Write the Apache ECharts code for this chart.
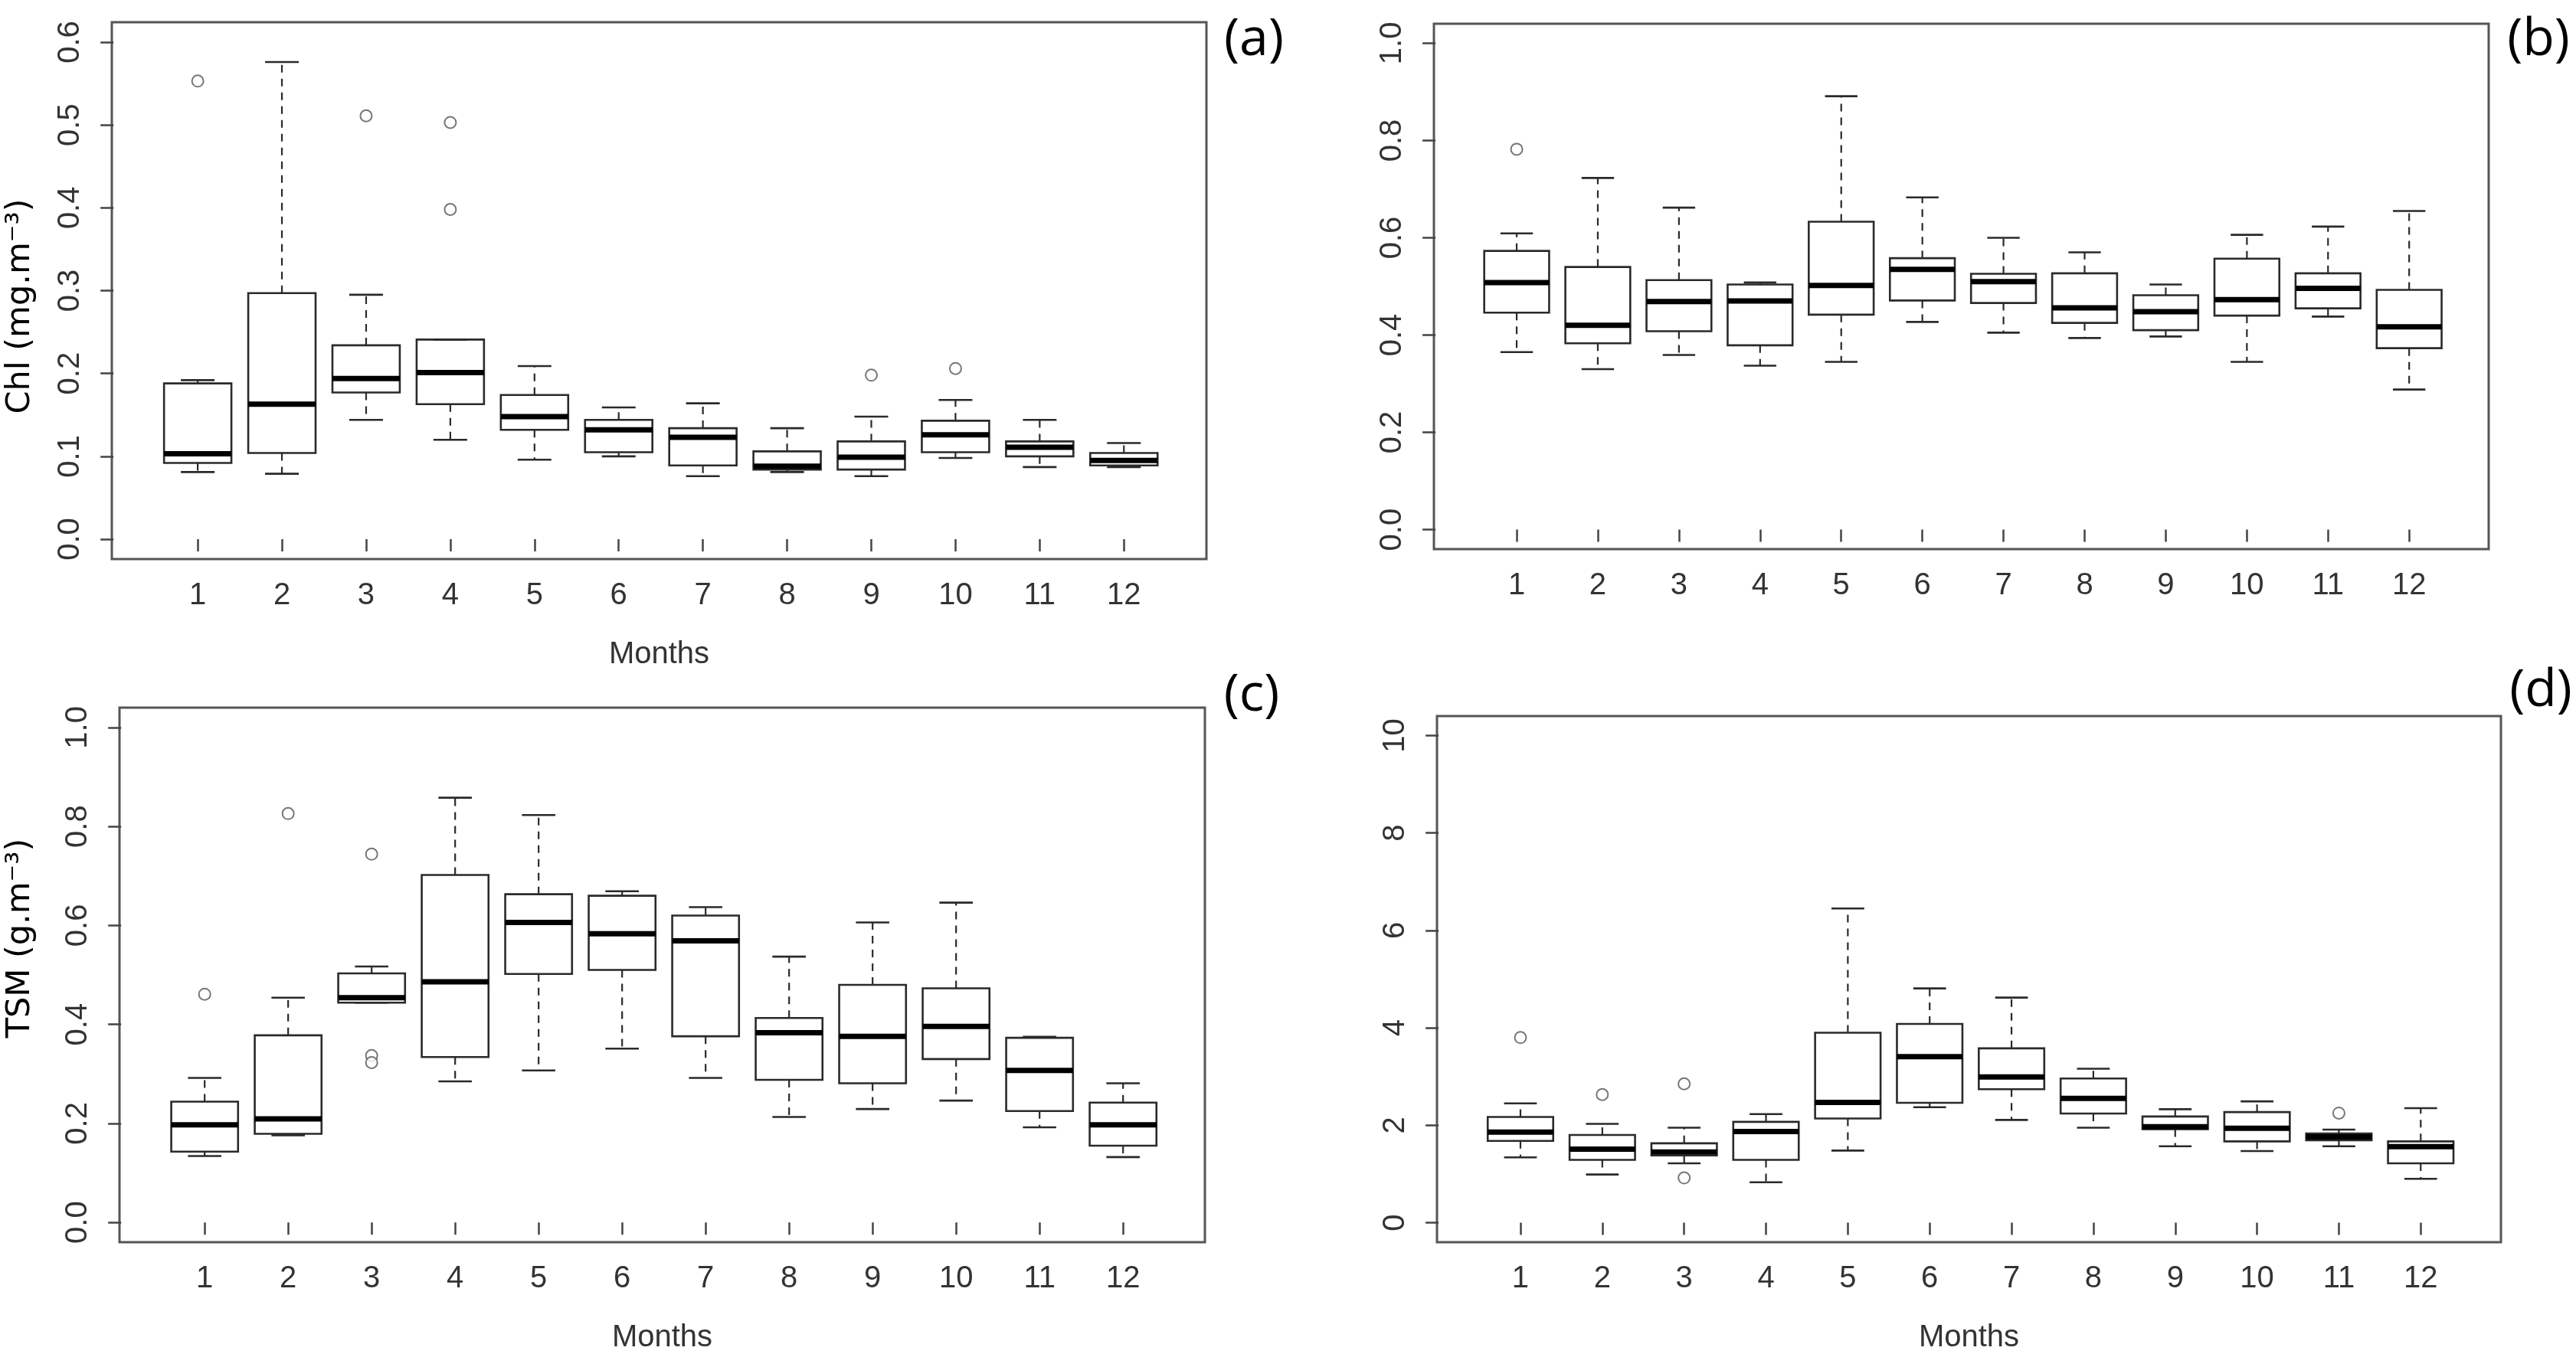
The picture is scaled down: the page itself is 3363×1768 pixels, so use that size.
<!DOCTYPE html>
<html><head><meta charset="utf-8">
<script src="https://cdn.jsdelivr.net/npm/echarts@6/dist/echarts.min.js"></script>
<style>html,body{margin:0;padding:0;background:#fff}#c{width:3363px;height:1768px}</style>
</head><body><div id="c"></div>
<script>
// ---- DATA ----
const months = [1,2,3,4,5,6,7,8,9,10,11,12];
// each row: [lower whisker, Q1, median, Q3, upper whisker]
const chlBoxes = [
  [0.081,0.092,0.103,0.188,0.192],[0.079,0.104,0.163,0.297,0.576],[0.144,0.177,0.194,0.234,0.295],
  [0.120,0.163,0.201,0.241,0.241],[0.096,0.132,0.148,0.174,0.209],[0.100,0.105,0.132,0.144,0.159],
  [0.076,0.089,0.123,0.134,0.164],[0.081,0.084,0.088,0.106,0.134],[0.076,0.084,0.099,0.118,0.148],
  [0.098,0.105,0.126,0.143,0.168],[0.087,0.100,0.111,0.118,0.144],[0.087,0.089,0.095,0.104,0.116]
];
const chlOutliers = [[1,0.553],[3,0.511],[4,0.503],[4,0.398],[9,0.198],[10,0.206]];
const panelBBoxes = [
  [0.365,0.446,0.508,0.573,0.609],[0.330,0.383,0.420,0.540,0.723],[0.359,0.408,0.469,0.513,0.662],
  [0.337,0.379,0.470,0.504,0.508],[0.345,0.442,0.502,0.633,0.891],[0.427,0.471,0.535,0.558,0.683],
  [0.405,0.466,0.510,0.526,0.600],[0.394,0.425,0.456,0.527,0.570],[0.397,0.410,0.448,0.482,0.504],
  [0.345,0.440,0.473,0.557,0.606],[0.438,0.455,0.496,0.527,0.623],[0.288,0.373,0.417,0.493,0.655]
];
const panelBOutliers = [[1,0.782]];
const tsmBoxes = [
  [0.134,0.143,0.197,0.244,0.292],[0.176,0.179,0.209,0.378,0.454],[0.444,0.444,0.454,0.503,0.517],
  [0.285,0.334,0.486,0.702,0.858],[0.307,0.502,0.606,0.663,0.823],[0.351,0.510,0.583,0.660,0.669],
  [0.292,0.376,0.569,0.620,0.637],[0.213,0.288,0.383,0.413,0.537],[0.229,0.281,0.376,0.480,0.606],
  [0.246,0.330,0.396,0.473,0.646],[0.192,0.225,0.307,0.373,0.375],[0.132,0.155,0.197,0.242,0.281]
];
const tsmOutliers = [[1,0.461],[2,0.826],[3,0.744],[3,0.337],[3,0.323]];
const panelDBoxes = [
  [1.34,1.68,1.86,2.17,2.45],[0.99,1.29,1.51,1.80,2.03],[1.22,1.38,1.45,1.63,1.95],
  [0.83,1.29,1.87,2.07,2.23],[1.48,2.14,2.47,3.90,6.45],[2.37,2.46,3.41,4.08,4.81],
  [2.11,2.74,2.99,3.58,4.62],[1.95,2.24,2.55,2.96,3.16],[1.57,1.92,1.97,2.18,2.33],
  [1.47,1.67,1.94,2.27,2.49],[1.57,1.69,1.76,1.83,1.91],[0.90,1.22,1.56,1.67,2.35]
];
const panelDOutliers = [[1,3.80],[2,2.63],[3,2.85],[3,0.92],[11,2.25]];
const chlTicks = [0,0.1,0.2,0.3,0.4,0.5,0.6];
const panelBTicks = [0,0.2,0.4,0.6,0.8,1.0];
const tsmTicks = [0,0.2,0.4,0.6,0.8,1.0];
const panelDTicks = [0,2,4,6,8,10];
const panelLetters = ['(a)','(b)','(c)','(d)'];
const yTitles = ['Chl (mg.m\u207B\u00B3)', '', 'TSM (g.m\u207B\u00B3)', ''];
const xTitle = 'Months';

// ---- LAYOUT ----
const panels = [
  {boxes: chlBoxes, out: chlOutliers, ticks: chlTicks, dec: 1, grid:{left:146, top:29, width:1429, height:701}, xname:true,
   letter:{x:1637,y:53}, ytitle:{x:27,y:400}},
  {boxes: panelBBoxes, out: panelBOutliers, ticks: panelBTicks, dec: 1, grid:{left:1872, top:31, width:1377, height:686}, xname:false,
   letter:{x:3314,y:53}, ytitle:null},
  {boxes: tsmBoxes, out: tsmOutliers, ticks: tsmTicks, dec: 1, grid:{left:156, top:924, width:1417, height:703}, xname:true,
   letter:{x:1634,y:909}, ytitle:{x:27,y:1225}},
  {boxes: panelDBoxes, out: panelDOutliers, ticks: panelDTicks, dec: 0, grid:{left:1876, top:935, width:1389, height:692}, xname:true,
   letter:{x:3317,y:903}, ytitle:null}
];

const RFONT = "'Liberation Sans', Arial, Helvetica, sans-serif";
const axisCol = '#444';

function renderBox(params, api) {
  const x = api.value(0);
  const lo = api.value(1), q1 = api.value(2), md = api.value(3), q3 = api.value(4), hi = api.value(5);
  const bw = api.size([0.8, 0])[0];
  const sw = bw / 2;
  const pLo = api.coord([x, lo]), pQ1 = api.coord([x, q1]), pMd = api.coord([x, md]);
  const pQ3 = api.coord([x, q3]), pHi = api.coord([x, hi]);
  const cx = pLo[0];
  const stroke = '#2a2a2a';
  const ch = [];
  if (pQ3[1] - pHi[1] > 1) ch.push({type:'line', shape:{x1:cx,y1:pQ3[1],x2:cx,y2:pHi[1]}, style:{stroke, lineWidth:2.2, lineDash:[10,8]}});
  if (pLo[1] - pQ1[1] > 1) ch.push({type:'line', shape:{x1:cx,y1:pQ1[1],x2:cx,y2:pLo[1]}, style:{stroke, lineWidth:2.2, lineDash:[10,8]}});
  ch.push({type:'line', shape:{x1:cx-sw/2,y1:pHi[1],x2:cx+sw/2,y2:pHi[1]}, style:{stroke, lineWidth:2.6}});
  ch.push({type:'line', shape:{x1:cx-sw/2,y1:pLo[1],x2:cx+sw/2,y2:pLo[1]}, style:{stroke, lineWidth:2.6}});
  ch.push({type:'rect', shape:{x:cx-bw/2, y:pQ3[1], width:bw, height:pQ1[1]-pQ3[1]}, style:{fill:'none', stroke, lineWidth:2.6}});
  ch.push({type:'line', shape:{x1:cx-bw/2,y1:pMd[1],x2:cx+bw/2,y2:pMd[1]}, style:{stroke:'#000', lineWidth:7}});
  return {type:'group', children: ch};
}

const grid = [], xAxis = [], yAxis = [], series = [], graphic = [];
panels.forEach((p, i) => {
  grid.push(Object.assign({show:true, borderColor:'#555', borderWidth:3, backgroundColor:'transparent'}, p.grid));
  xAxis.push({
    type:'value', gridIndex:i, min:-0.02, max:12.98,
    axisLine:{show:false}, splitLine:{show:false},
    axisTick:{show:true, customValues: months, length:16, lineStyle:{color:axisCol, width:2.5}},
    axisLabel:{customValues: months, margin:28, fontSize:40, fontFamily:RFONT, color:'#333'},
    name: p.xname ? xTitle : '', nameLocation:'middle', nameGap:105,
    nameTextStyle:{fontSize:40, fontFamily:RFONT, color:'#333'}
  });
  const span = p.ticks[p.ticks.length-1] - p.ticks[0];
  yAxis.push({
    type:'value', gridIndex:i, min:p.ticks[0] - 0.04*span, max:p.ticks[p.ticks.length-1] + 0.04*span,
    axisLine:{show:false}, splitLine:{show:false},
    axisTick:{show:true, customValues: p.ticks, length:17, lineStyle:{color:axisCol, width:2.5}},
    axisLabel:{customValues: p.ticks, rotate:90, margin:34, fontSize:40, fontFamily:RFONT, color:'#333',
      formatter: v => Number(v).toFixed(p.dec)}
  });
  series.push({
    type:'custom', xAxisIndex:i, yAxisIndex:i, renderItem: renderBox,
    encode:{x:0, y:[1,2,3,4,5]},
    data: months.map((m, k) => [m].concat(p.boxes[k]))
  });
  series.push({
    type:'scatter', xAxisIndex:i, yAxisIndex:i, symbol:'emptyCircle', symbolSize:15,
    itemStyle:{color:'#555', borderWidth:2}, data: p.out
  });
  graphic.push({type:'text', x:p.letter.x, y:p.letter.y,
    style:{text: panelLetters[i], fontSize:68, fontFamily:"'Open Sans', 'Noto Sans', sans-serif", fill:'#000', align:'center', verticalAlign:'middle'}});
  if (p.ytitle) {
    graphic.push({type:'text', x:p.ytitle.x, y:p.ytitle.y, rotation: Math.PI/2,
      style:{text: yTitles[i], fontSize:43, fontFamily:"'DejaVu Sans', sans-serif", fill:'#000', align:'center', verticalAlign:'middle'}});
  }
});

const chart = echarts.init(document.getElementById('c'), null, {renderer:'canvas'});
chart.setOption({animation:false, backgroundColor:'#fff', grid, xAxis, yAxis, series, graphic});
</script>
</body></html>
